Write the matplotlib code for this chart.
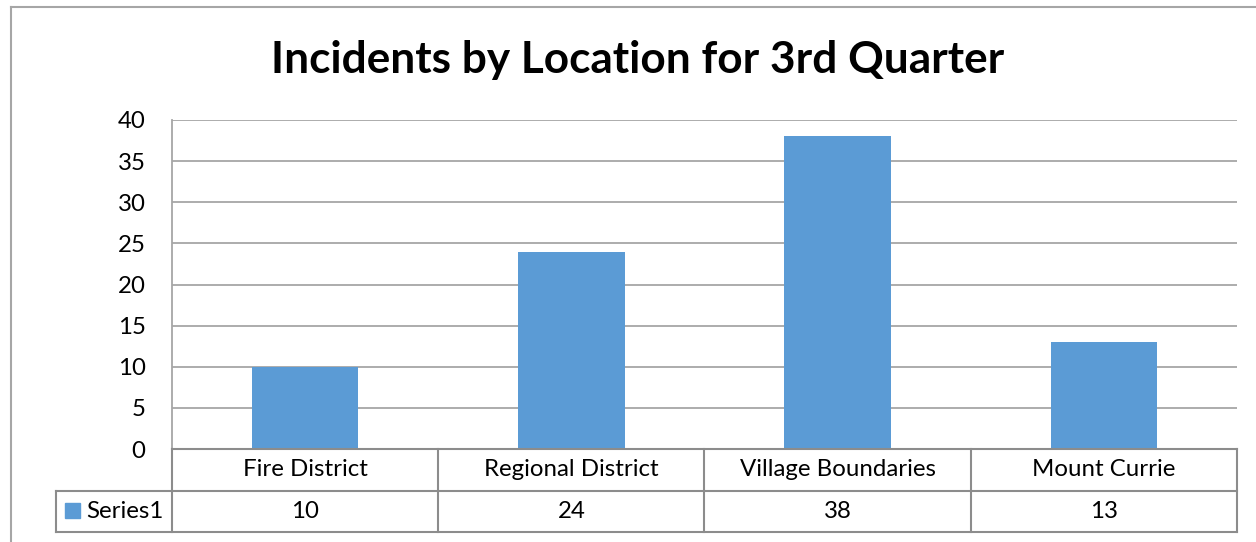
import numpy as np
import matplotlib.pyplot as plt
from matplotlib.lines import Line2D
from matplotlib.patches import Rectangle
from matplotlib.transforms import blended_transform_factory

categories = ['Fire District', 'Regional District', 'Village Boundaries', 'Mount Currie']
values = [10, 24, 38, 13]
series_name = 'Series1'
title = 'Incidents by Location for 3rd Quarter'
yticks = [0, 5, 10, 15, 20, 25, 30, 35, 40]

W, H = 1256, 542
bar_color = '#5B9BD5'
grid_color = '#a6a6a6'
table_color = '#8c8c8c'
font = 'Lato'
fs = 17.3

plt.rcParams['font.family'] = [font, 'DejaVu Sans']

fig = plt.figure(figsize=(W / 100, H / 100), dpi=100)

# plot area in pixels
left, right, top, bottom = 172, 1237, 120, 449
ax = fig.add_axes([left / W, 1 - bottom / H, (right - left) / W, (bottom - top) / H])

x = np.arange(len(categories))
ax.bar(x, values, width=0.4, color=bar_color, zorder=2)
ax.set_xlim(-0.5, len(categories) - 0.5)
ax.set_ylim(0, 40)
ax.set_yticks(yticks)
ax.set_yticklabels([str(t) for t in yticks], fontsize=fs)
ax.tick_params(axis='y', length=0, pad=19)
ax.set_xticks([])
ax.grid(axis='y', color=grid_color, linewidth=1.3, zorder=0)
for s in ['top', 'right', 'bottom']:
    ax.spines[s].set_visible(False)
ax.spines['left'].set_color(grid_color)
ax.spines['left'].set_linewidth(1.3)

# data table under the axis
def fx(px):
    return px / W

def fy(py):
    return 1 - py / H

row1, row2, row3 = 449, 491, 532
series_left = 56
tbl = dict(color=table_color, linewidth=1.5, transform=fig.transFigure)
fig.add_artist(Line2D([fx(left), fx(right)], [fy(row1), fy(row1)], **tbl))
for yy in (row2, row3):
    fig.add_artist(Line2D([fx(series_left), fx(right)], [fy(yy), fy(yy)], **tbl))
fig.add_artist(Line2D([fx(series_left), fx(series_left)], [fy(row2), fy(row3)], **tbl))
cell_w = (right - left) / len(categories)
for i in range(len(categories) + 1):
    xx = left + i * cell_w
    fig.add_artist(Line2D([fx(xx), fx(xx)], [fy(row1), fy(row3)], **tbl))

trans = blended_transform_factory(ax.transData, fig.transFigure)
for i, (cat, v) in enumerate(zip(categories, values)):
    fig.text(i, fy((row1 + row2) / 2), cat, transform=trans, ha='center', va='center',
             fontsize=fs)
    fig.text(i, fy((row2 + row3) / 2), str(v), transform=trans, ha='center', va='center',
             fontsize=fs)

# legend key in the table
fig.add_artist(Rectangle((fx(65), fy(518)), 15 / W, 15 / H, color=bar_color,
                         transform=fig.transFigure))
fig.text(fx(86), fy((row2 + row3) / 2), series_name, ha='left', va='center', fontsize=fs)

# title
fig.text(fx(638), fy(60), title, ha='center', va='center', fontsize=31.8, fontweight='bold')

# chart border (left and top visible)
border = dict(color='#a6a6a6', linewidth=1.5, transform=fig.transFigure)
fig.add_artist(Line2D([fx(11), fx(11)], [fy(7), 0], **border))
fig.add_artist(Line2D([fx(11), 1], [fy(7), fy(7)], **border))

fig.savefig('out.png', dpi=100)
